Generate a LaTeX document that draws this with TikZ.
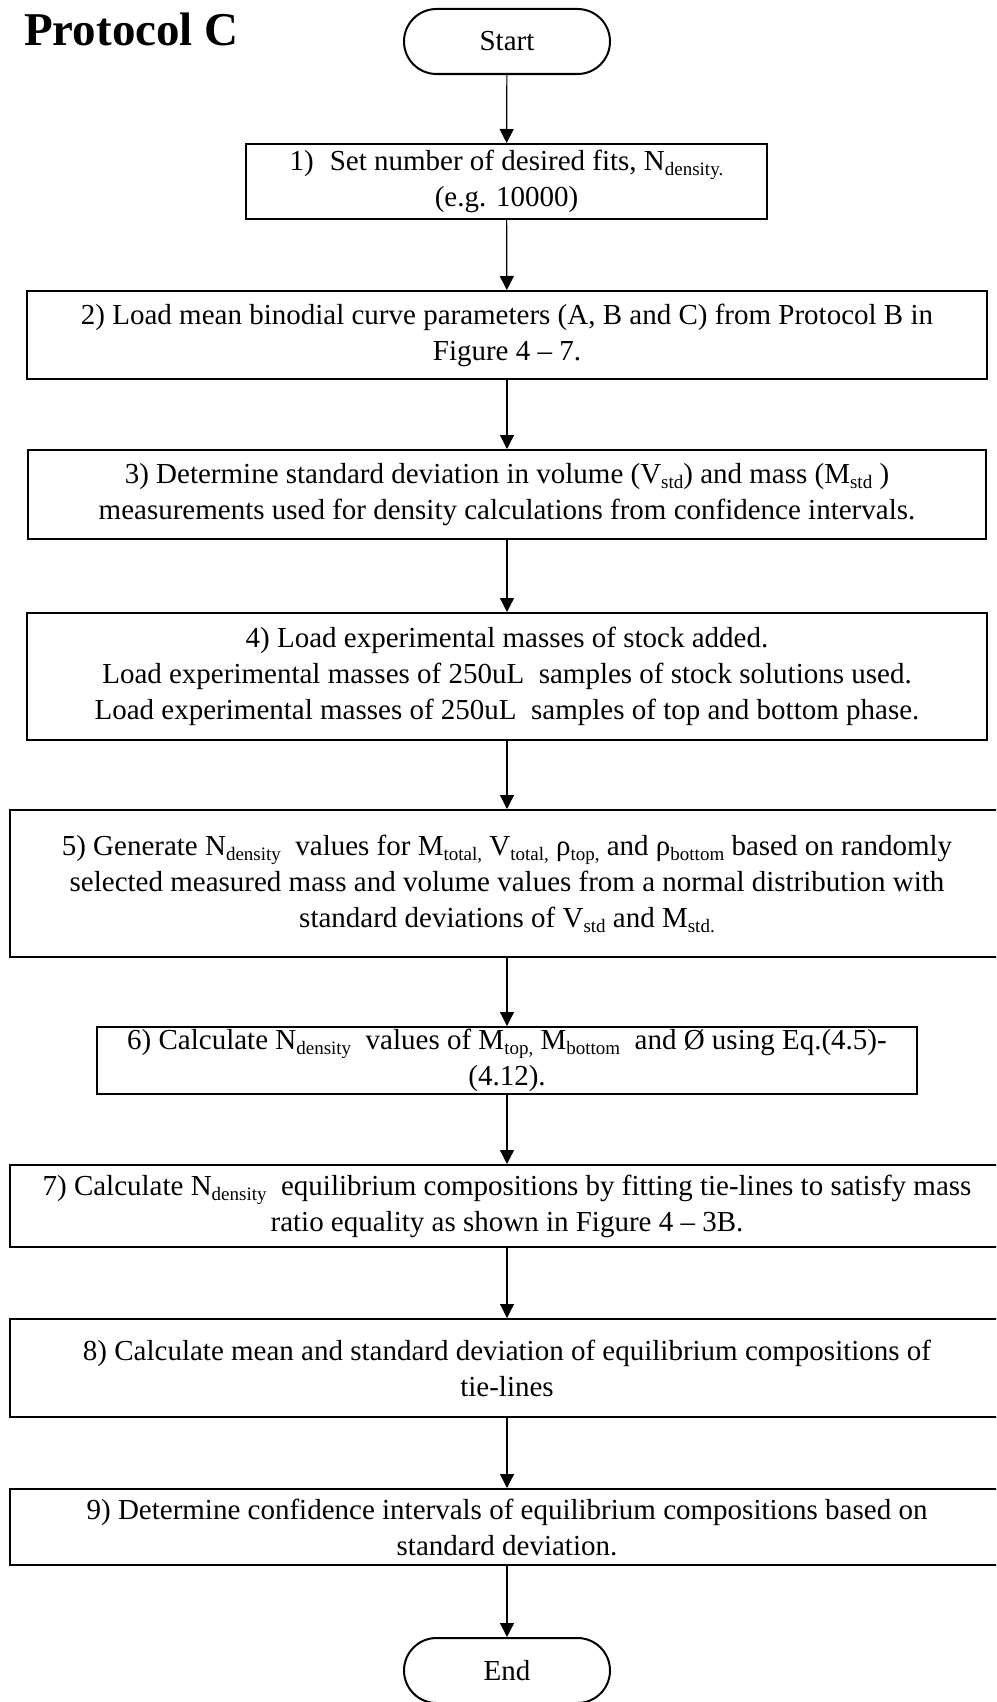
\documentclass[tikz,border=0pt]{standalone}
\usepackage{fontspec}
\setmainfont{Liberation Serif}
\usetikzlibrary{arrows.meta}
% lowered small text for subscripts
\newcommand{\lowtxt}[1]{\raisebox{-5pt}{\fontsize{19}{19}\selectfont #1}}
\begin{document}
\begin{tikzpicture}[x=1pt,y=-1pt,
  every node/.style={font=\fontsize{29}{36}\selectfont, align=center, inner sep=0pt},
  stepbox/.style={draw, line width=2pt, minimum width=#1},
  termbox/.style={draw, line width=2pt, rounded corners=32.5pt, minimum width=206pt, minimum height=65pt},
  arr/.style={line width=1.2pt, -{Triangle[width=14pt,length=14pt]}}]
\useasboundingbox (0,0) rectangle (996,1702);
\clip (0,0) rectangle (996,1702);

\node[anchor=base west, font=\fontsize{47}{50}\selectfont\bfseries] (title) at (24,46) {Protocol C};

\node[termbox] (start) at (507,41.5) {Start};

\node[stepbox=521pt, minimum height=75pt] (s1) at (506.5,181.5)
  {1)\hspace{0.55em}Set number of desired fits, N\lowtxt{density.}\\(e.g. 10000)};

\node[stepbox=960pt, minimum height=88pt] (s2) at (507,335)
  {2) Load mean binodial curve parameters (A, B and C) from Protocol B in\\Figure 4 -- 7.};

\node[stepbox=958pt, minimum height=89pt] (s3) at (507,494.5)
  {3) Determine standard deviation in volume (V\lowtxt{std}) and mass (M\lowtxt{std} )\\
   measurements used for density calculations from confidence intervals.};

\node[stepbox=960pt, minimum height=127pt] (s4) at (507,676.5)
  {4) Load experimental masses of stock added.\\
   Load experimental masses of 250uL\ \ samples of stock solutions used.\\
   Load experimental masses of 250uL\ \ samples of top and bottom phase.};

\node[stepbox=994pt, minimum height=147pt] (s5) at (507,883.5)
  {5) Generate N\lowtxt{density}\ \ values for M\lowtxt{total,} V\lowtxt{total,} ρ\lowtxt{top,} and ρ\lowtxt{bottom} based on randomly\\
   selected measured mass and volume values from a normal distribution with\\
   standard deviations of V\lowtxt{std} and M\lowtxt{std.}};

\node[stepbox=820pt, minimum height=67pt] (s6) at (507,1060.5)
  {6) Calculate N\lowtxt{density}\ \ values of M\lowtxt{top,} M\lowtxt{bottom}\ \ and Ø using Eq.(4.5)-\\(4.12).};

\node[stepbox=994pt, minimum height=82pt] (s7) at (507,1206)
  {7) Calculate N\lowtxt{density}\ \ equilibrium compositions by fitting tie-lines to satisfy mass\\
   ratio equality as shown in Figure 4 -- 3B.};

\node[stepbox=994pt, minimum height=98pt] (s8) at (507,1368)
  {8) Calculate mean and standard deviation of equilibrium compositions of\\tie-lines};

\node[stepbox=994pt, minimum height=76pt] (s9) at (507,1527)
  {9) Determine confidence intervals of equilibrium compositions based on\\standard deviation.};

\node[termbox] (end) at (507,1670.5) {End};

\draw[arr] (start) -- (s1);
\draw[arr] (s1) -- (s2);
\draw[arr] (s2) -- (s3);
\draw[arr] (s3) -- (s4);
\draw[arr] (s4) -- (s5);
\draw[arr] (s5) -- (s6);
\draw[arr] (s6) -- (s7);
\draw[arr] (s7) -- (s8);
\draw[arr] (s8) -- (s9);
\draw[arr] (s9) -- (end);
\end{tikzpicture}
\end{document}
